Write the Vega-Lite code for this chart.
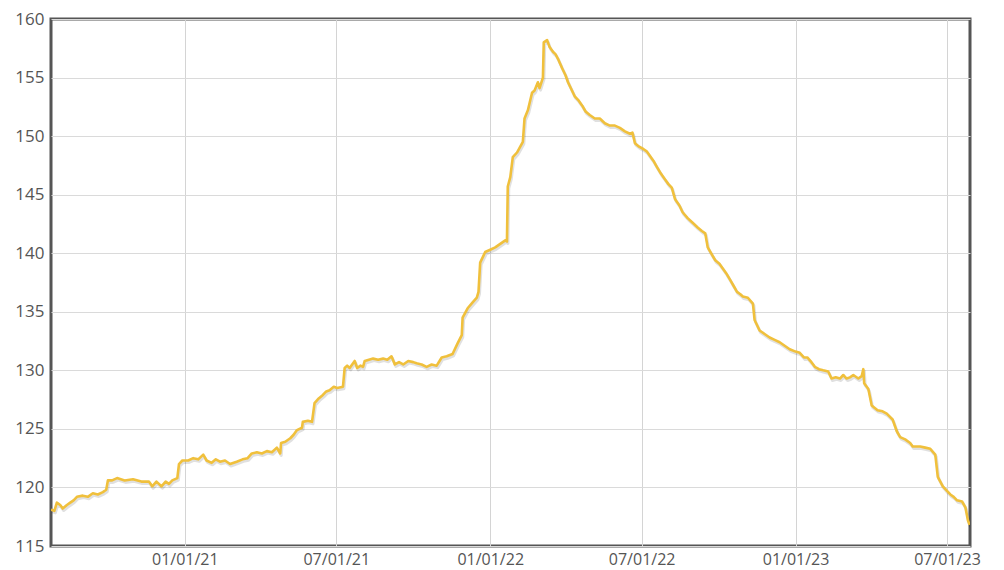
{
  "$schema": "https://vega.github.io/schema/vega-lite/v6.json",
  "width": 919,
  "height": 527,
  "autosize": {"type": "none"},
  "padding": {"left": 51, "top": 19, "right": 34, "bottom": 24},
  "background": "white",
  "config": {
    "view": {"stroke": "#555555", "strokeWidth": 3},
    "font": "Open Sans"
  },
  "data": {
    "values": [
      {"date": "2020-07-25", "v": 118.1},
      {"date": "2020-07-29", "v": 118.0},
      {"date": "2020-08-01", "v": 118.7},
      {"date": "2020-08-05", "v": 118.5},
      {"date": "2020-08-08", "v": 118.2},
      {"date": "2020-08-13", "v": 118.5},
      {"date": "2020-08-17", "v": 118.7},
      {"date": "2020-08-21", "v": 118.9},
      {"date": "2020-08-25", "v": 119.2},
      {"date": "2020-09-01", "v": 119.3},
      {"date": "2020-09-07", "v": 119.2},
      {"date": "2020-09-13", "v": 119.5},
      {"date": "2020-09-19", "v": 119.4},
      {"date": "2020-09-25", "v": 119.6},
      {"date": "2020-09-29", "v": 119.8},
      {"date": "2020-10-01", "v": 120.6},
      {"date": "2020-10-06", "v": 120.6},
      {"date": "2020-10-12", "v": 120.8},
      {"date": "2020-10-21", "v": 120.6},
      {"date": "2020-10-31", "v": 120.7},
      {"date": "2020-11-10", "v": 120.5},
      {"date": "2020-11-19", "v": 120.5},
      {"date": "2020-11-23", "v": 120.1},
      {"date": "2020-11-28", "v": 120.5},
      {"date": "2020-12-04", "v": 120.1},
      {"date": "2020-12-09", "v": 120.5},
      {"date": "2020-12-13", "v": 120.3},
      {"date": "2020-12-17", "v": 120.6},
      {"date": "2020-12-23", "v": 120.8},
      {"date": "2020-12-25", "v": 122.0},
      {"date": "2020-12-29", "v": 122.3},
      {"date": "2021-01-05", "v": 122.3},
      {"date": "2021-01-11", "v": 122.5},
      {"date": "2021-01-17", "v": 122.4},
      {"date": "2021-01-23", "v": 122.8},
      {"date": "2021-01-27", "v": 122.3},
      {"date": "2021-02-02", "v": 122.1},
      {"date": "2021-02-07", "v": 122.4},
      {"date": "2021-02-12", "v": 122.2},
      {"date": "2021-02-18", "v": 122.3},
      {"date": "2021-02-24", "v": 122.0},
      {"date": "2021-03-04", "v": 122.2},
      {"date": "2021-03-11", "v": 122.4},
      {"date": "2021-03-17", "v": 122.5},
      {"date": "2021-03-22", "v": 122.9},
      {"date": "2021-03-28", "v": 123.0},
      {"date": "2021-04-03", "v": 122.9},
      {"date": "2021-04-09", "v": 123.1},
      {"date": "2021-04-15", "v": 123.0},
      {"date": "2021-04-21", "v": 123.4},
      {"date": "2021-04-25", "v": 122.9},
      {"date": "2021-04-26", "v": 123.8},
      {"date": "2021-05-01", "v": 123.9},
      {"date": "2021-05-07", "v": 124.2},
      {"date": "2021-05-11", "v": 124.5},
      {"date": "2021-05-15", "v": 124.9},
      {"date": "2021-05-21", "v": 125.1},
      {"date": "2021-05-22", "v": 125.6},
      {"date": "2021-05-28", "v": 125.7},
      {"date": "2021-06-02", "v": 125.6},
      {"date": "2021-06-05", "v": 127.2},
      {"date": "2021-06-10", "v": 127.6},
      {"date": "2021-06-15", "v": 127.9},
      {"date": "2021-06-19", "v": 128.2},
      {"date": "2021-06-23", "v": 128.3},
      {"date": "2021-06-28", "v": 128.6},
      {"date": "2021-07-02", "v": 128.5},
      {"date": "2021-07-09", "v": 128.6},
      {"date": "2021-07-11", "v": 130.2},
      {"date": "2021-07-14", "v": 130.4},
      {"date": "2021-07-17", "v": 130.2},
      {"date": "2021-07-20", "v": 130.5},
      {"date": "2021-07-23", "v": 130.8},
      {"date": "2021-07-26", "v": 130.2},
      {"date": "2021-07-30", "v": 130.4},
      {"date": "2021-08-02", "v": 130.3},
      {"date": "2021-08-04", "v": 130.8},
      {"date": "2021-08-09", "v": 130.9},
      {"date": "2021-08-14", "v": 131.0},
      {"date": "2021-08-20", "v": 130.9},
      {"date": "2021-08-26", "v": 131.0},
      {"date": "2021-08-31", "v": 130.9},
      {"date": "2021-09-05", "v": 131.2},
      {"date": "2021-09-09", "v": 130.5},
      {"date": "2021-09-14", "v": 130.7},
      {"date": "2021-09-19", "v": 130.5},
      {"date": "2021-09-25", "v": 130.8},
      {"date": "2021-10-01", "v": 130.7},
      {"date": "2021-10-05", "v": 130.6},
      {"date": "2021-10-11", "v": 130.5},
      {"date": "2021-10-17", "v": 130.3},
      {"date": "2021-10-23", "v": 130.5},
      {"date": "2021-10-29", "v": 130.4},
      {"date": "2021-11-04", "v": 131.1},
      {"date": "2021-11-10", "v": 131.2},
      {"date": "2021-11-17", "v": 131.4},
      {"date": "2021-11-23", "v": 132.3},
      {"date": "2021-11-28", "v": 133.0},
      {"date": "2021-11-29", "v": 134.5},
      {"date": "2021-12-05", "v": 135.3},
      {"date": "2021-12-11", "v": 135.8},
      {"date": "2021-12-16", "v": 136.2},
      {"date": "2021-12-18", "v": 136.7},
      {"date": "2021-12-20", "v": 139.2},
      {"date": "2021-12-26", "v": 140.1},
      {"date": "2022-01-01", "v": 140.3},
      {"date": "2022-01-07", "v": 140.5},
      {"date": "2022-01-13", "v": 140.8},
      {"date": "2022-01-19", "v": 141.1},
      {"date": "2022-01-21", "v": 141.0},
      {"date": "2022-01-22", "v": 145.7},
      {"date": "2022-01-25", "v": 146.5},
      {"date": "2022-01-28", "v": 148.2},
      {"date": "2022-02-02", "v": 148.6},
      {"date": "2022-02-09", "v": 149.5},
      {"date": "2022-02-11", "v": 151.5},
      {"date": "2022-02-15", "v": 152.2},
      {"date": "2022-02-20", "v": 153.7},
      {"date": "2022-02-23", "v": 153.9},
      {"date": "2022-02-27", "v": 154.6},
      {"date": "2022-03-01", "v": 154.1},
      {"date": "2022-03-05", "v": 155.0},
      {"date": "2022-03-06", "v": 158.0},
      {"date": "2022-03-10", "v": 158.2},
      {"date": "2022-03-13", "v": 157.6},
      {"date": "2022-03-17", "v": 157.2},
      {"date": "2022-03-20", "v": 157.0},
      {"date": "2022-03-23", "v": 156.6},
      {"date": "2022-03-28", "v": 155.8},
      {"date": "2022-04-01", "v": 155.2},
      {"date": "2022-04-04", "v": 154.6},
      {"date": "2022-04-08", "v": 154.0},
      {"date": "2022-04-12", "v": 153.4},
      {"date": "2022-04-16", "v": 153.1},
      {"date": "2022-04-21", "v": 152.6},
      {"date": "2022-04-25", "v": 152.1},
      {"date": "2022-04-30", "v": 151.8},
      {"date": "2022-05-06", "v": 151.5},
      {"date": "2022-05-12", "v": 151.5},
      {"date": "2022-05-18", "v": 151.1},
      {"date": "2022-05-24", "v": 150.9},
      {"date": "2022-05-30", "v": 150.9},
      {"date": "2022-06-05", "v": 150.7},
      {"date": "2022-06-11", "v": 150.4},
      {"date": "2022-06-17", "v": 150.2},
      {"date": "2022-06-20", "v": 150.3},
      {"date": "2022-06-23", "v": 149.4},
      {"date": "2022-06-28", "v": 149.1},
      {"date": "2022-07-03", "v": 148.9},
      {"date": "2022-07-07", "v": 148.7},
      {"date": "2022-07-11", "v": 148.3},
      {"date": "2022-07-15", "v": 147.9},
      {"date": "2022-07-19", "v": 147.4},
      {"date": "2022-07-24", "v": 146.8},
      {"date": "2022-07-29", "v": 146.3},
      {"date": "2022-08-02", "v": 145.9},
      {"date": "2022-08-06", "v": 145.6},
      {"date": "2022-08-10", "v": 144.6},
      {"date": "2022-08-15", "v": 144.1},
      {"date": "2022-08-19", "v": 143.5},
      {"date": "2022-08-25", "v": 143.0},
      {"date": "2022-08-31", "v": 142.6},
      {"date": "2022-09-06", "v": 142.2},
      {"date": "2022-09-11", "v": 141.9},
      {"date": "2022-09-15", "v": 141.7},
      {"date": "2022-09-18", "v": 140.5},
      {"date": "2022-09-22", "v": 140.0},
      {"date": "2022-09-27", "v": 139.4},
      {"date": "2022-10-02", "v": 139.1},
      {"date": "2022-10-06", "v": 138.7},
      {"date": "2022-10-10", "v": 138.3},
      {"date": "2022-10-15", "v": 137.7},
      {"date": "2022-10-19", "v": 137.2},
      {"date": "2022-10-23", "v": 136.7},
      {"date": "2022-10-27", "v": 136.5},
      {"date": "2022-10-30", "v": 136.3},
      {"date": "2022-11-05", "v": 136.2},
      {"date": "2022-11-11", "v": 135.7},
      {"date": "2022-11-13", "v": 134.3},
      {"date": "2022-11-19", "v": 133.4},
      {"date": "2022-11-25", "v": 133.1},
      {"date": "2022-12-01", "v": 132.8},
      {"date": "2022-12-07", "v": 132.6},
      {"date": "2022-12-13", "v": 132.4},
      {"date": "2022-12-19", "v": 132.1},
      {"date": "2022-12-25", "v": 131.8},
      {"date": "2023-01-01", "v": 131.6},
      {"date": "2023-01-06", "v": 131.5},
      {"date": "2023-01-11", "v": 131.1},
      {"date": "2023-01-15", "v": 131.1},
      {"date": "2023-01-20", "v": 130.7},
      {"date": "2023-01-24", "v": 130.3},
      {"date": "2023-01-29", "v": 130.1},
      {"date": "2023-02-03", "v": 130.0},
      {"date": "2023-02-09", "v": 129.9},
      {"date": "2023-02-13", "v": 129.3},
      {"date": "2023-02-18", "v": 129.4},
      {"date": "2023-02-23", "v": 129.3},
      {"date": "2023-02-27", "v": 129.6},
      {"date": "2023-03-03", "v": 129.3},
      {"date": "2023-03-07", "v": 129.4},
      {"date": "2023-03-11", "v": 129.6},
      {"date": "2023-03-17", "v": 129.3},
      {"date": "2023-03-21", "v": 129.5},
      {"date": "2023-03-23", "v": 130.1},
      {"date": "2023-03-24", "v": 128.9},
      {"date": "2023-03-29", "v": 128.4},
      {"date": "2023-04-02", "v": 127.0},
      {"date": "2023-04-09", "v": 126.6},
      {"date": "2023-04-15", "v": 126.5},
      {"date": "2023-04-20", "v": 126.3},
      {"date": "2023-04-27", "v": 125.8},
      {"date": "2023-05-02", "v": 124.8},
      {"date": "2023-05-06", "v": 124.3},
      {"date": "2023-05-12", "v": 124.1},
      {"date": "2023-05-18", "v": 123.8},
      {"date": "2023-05-21", "v": 123.5},
      {"date": "2023-05-30", "v": 123.5},
      {"date": "2023-06-05", "v": 123.4},
      {"date": "2023-06-11", "v": 123.3},
      {"date": "2023-06-17", "v": 122.8},
      {"date": "2023-06-20", "v": 120.9},
      {"date": "2023-06-26", "v": 120.1},
      {"date": "2023-07-01", "v": 119.7},
      {"date": "2023-07-05", "v": 119.4},
      {"date": "2023-07-09", "v": 119.2},
      {"date": "2023-07-13", "v": 118.9},
      {"date": "2023-07-19", "v": 118.8},
      {"date": "2023-07-23", "v": 118.3},
      {"date": "2023-07-26", "v": 117.2},
      {"date": "2023-07-28", "v": 116.8}
    ]
  },
  "layer": [
    {
      "mark": {"type": "line", "color": "#000000", "opacity": 0.12, "strokeWidth": 3, "strokeJoin": "round", "xOffset": 1, "yOffset": 2, "clip": true},
      "encoding": {
        "x": {"field": "date", "type": "temporal"},
        "y": {"field": "v", "type": "quantitative"}
      }
    },
    {
      "mark": {"type": "line", "color": "#F0C03C", "strokeWidth": 2.6, "strokeJoin": "round", "clip": true},
      "encoding": {
        "x": {
          "field": "date",
          "type": "temporal",
          "scale": {"domain": ["2020-07-25T00:00:00", "2023-07-28T12:00:00"], "nice": false},
          "axis": {
            "title": null,
            "values": [
              {"year": 2021, "month": 1, "date": 1},
              {"year": 2021, "month": 7, "date": 1},
              {"year": 2022, "month": 1, "date": 1},
              {"year": 2022, "month": 7, "date": 1},
              {"year": 2023, "month": 1, "date": 1},
              {"year": 2023, "month": 7, "date": 1}
            ],
            "format": "%m/%d/%y",
            "grid": true,
            "gridColor": "#d4d4d4",
            "gridWidth": 1,
            "domain": false,
            "ticks": false,
            "labelFontSize": 16,
            "labelColor": "#555555",
            "labelPadding": 5,
            "labelFont": "Open Sans"
          }
        },
        "y": {
          "field": "v",
          "type": "quantitative",
          "scale": {"domain": [115, 160], "nice": false, "zero": false},
          "axis": {
            "title": null,
            "values": [115, 120, 125, 130, 135, 140, 145, 150, 155, 160],
            "grid": true,
            "gridColor": "#dadada",
            "gridWidth": 1,
            "domain": false,
            "ticks": false,
            "labelFontSize": 17,
            "labelColor": "#555555",
            "labelPadding": 7,
            "labelFont": "Open Sans"
          }
        }
      }
    }
  ]
}
